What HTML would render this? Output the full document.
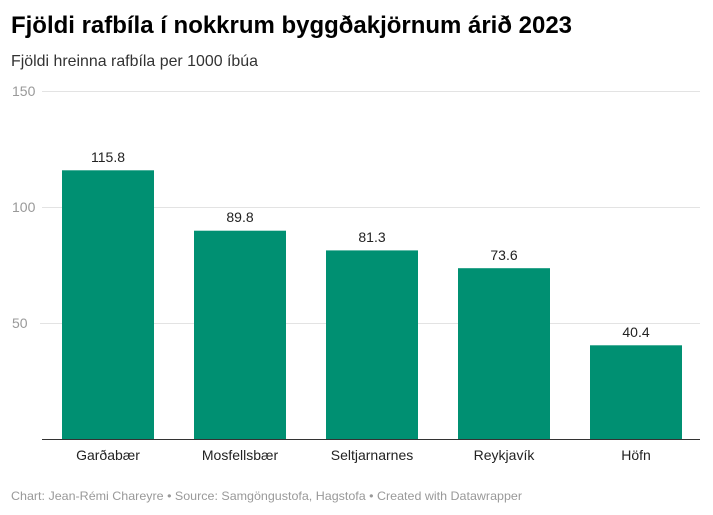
<!DOCTYPE html>
<html><head><meta charset="utf-8"><style>
html,body{margin:0;padding:0;background:#fff;}
svg{display:block;font-family:"Liberation Sans",sans-serif;}
</style></head><body>
<svg width="713" height="515" viewBox="0 0 713 515">
<text x="11" y="33" font-size="24" font-weight="bold" fill="#000" textLength="561" lengthAdjust="spacingAndGlyphs">Fjöldi rafbíla í nokkrum byggðakjörnum árið 2023</text>
<text x="11" y="66" font-size="16" fill="#333" textLength="247" lengthAdjust="spacingAndGlyphs">Fjöldi hreinna rafbíla per 1000 íbúa</text>
<g font-size="14" fill="#999">
<text x="12" y="96">150</text>
<text x="12" y="212">100</text>
<text x="12" y="328">50</text>
</g>
<g stroke="#e3e3e3" stroke-width="1">
<line x1="42" y1="91.5" x2="700" y2="91.5"/>
<line x1="42" y1="207.5" x2="700" y2="207.5"/>
<line x1="40" y1="323.5" x2="700" y2="323.5"/>
</g>
<g fill="#009072">
<rect x="62" y="170.3" width="92" height="268.7"/>
<rect x="194" y="230.7" width="92" height="208.3"/>
<rect x="326" y="250.4" width="92" height="188.6"/>
<rect x="458" y="268.2" width="92" height="170.8"/>
<rect x="590" y="345.3" width="92" height="93.7"/>
</g>
<line x1="42" y1="439.5" x2="700" y2="439.5" stroke="#333" stroke-width="1"/>
<g font-size="14" fill="#222" text-anchor="middle">
<text x="108" y="162">115.8</text>
<text x="240" y="222">89.8</text>
<text x="372" y="242">81.3</text>
<text x="504" y="260">73.6</text>
<text x="636" y="337">40.4</text>
<text x="108" y="460">Garðabær</text>
<text x="240" y="460">Mosfellsbær</text>
<text x="372" y="460">Seltjarnarnes</text>
<text x="504" y="460">Reykjavík</text>
<text x="636" y="460">Höfn</text>
</g>
<text x="11" y="500" font-size="12" fill="#999" textLength="511" lengthAdjust="spacingAndGlyphs">Chart: Jean-Rémi Chareyre • Source: Samgöngustofa, Hagstofa • Created with Datawrapper</text>
</svg>
</body></html>
